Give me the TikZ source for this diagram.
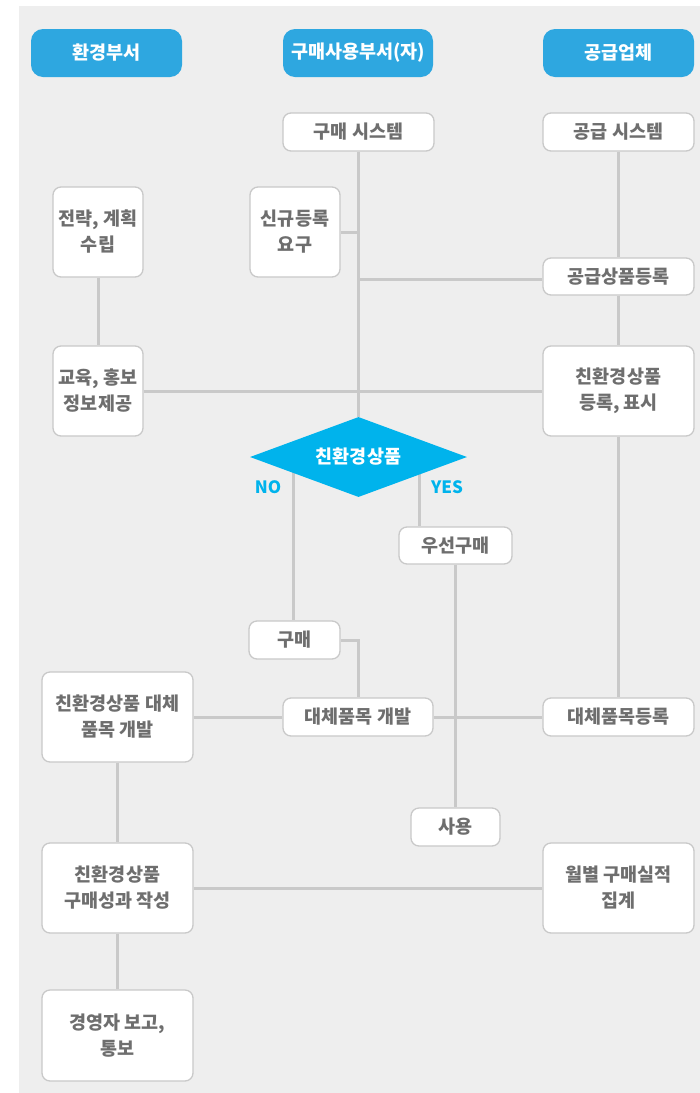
\documentclass[tikz,border=0pt]{standalone}
\usepackage{fontspec}
\setmainfont{Noto Sans CJK KR}
\usetikzlibrary{shapes.geometric,backgrounds}
\definecolor{bg}{HTML}{EEEEEE}
\definecolor{hdr}{HTML}{2EA7E0}
\definecolor{dia}{HTML}{00B3EC}
\definecolor{edge}{HTML}{C9C9C9}
\definecolor{txt}{HTML}{6E6E6E}
\tikzset{
  header/.style={draw=none, fill=hdr, rounded corners=12pt, text=white,
    minimum width=151pt, minimum height=48pt, inner sep=0pt,
    font=\fontsize{18.5}{22}\selectfont\bfseries},
  box/.style={draw=edge, line width=1.3pt, fill=white, rounded corners=8pt, text=txt,
    minimum width=151pt, minimum height=38pt, inner sep=0pt, align=center,
    font=\fontsize{18.5}{26}\selectfont\bfseries},
  conn/.style={draw=edge, line width=3pt},
  yn/.style={text=dia, font=\fontsize{17}{20}\selectfont\bfseries, inner sep=0pt},
}
\begin{document}
\begin{tikzpicture}[x=1pt,y=-1pt]
\useasboundingbox (0,0) rectangle (700,1093);
% headers
\node[header] (h1) at (106.5,53) {환경부서};
\node[header, minimum width=150pt] (h2) at (358,53) {구매사용부서(자)};
\node[header] (h3) at (618.5,53) {공급업체};
% boxes
\node[box] (buysys) at (358.5,132) {구매 시스템};
\node[box] (supsys) at (618.5,132) {공급 시스템};
\node[box, minimum width=90pt, minimum height=90pt] (plan) at (98,232) {전략, 계획\\수립};
\node[box, minimum width=90pt, minimum height=90pt] (newreg) at (295,232) {신규등록\\요구};
\node[box, minimum width=90pt, minimum height=90pt] (edu) at (98,391) {교육, 홍보\\정보제공};
\node[box, minimum height=37pt] (supreg) at (618.5,276.5) {공급상품등록};
\node[box, minimum height=90pt] (ecoreg) at (618.5,391) {친환경상품\\등록, 표시};
\node[diamond, aspect=2.7, fill=dia, text=white, minimum width=217pt, minimum height=80pt, inner sep=0pt,
  font=\fontsize{18.5}{22}\selectfont\bfseries] (dec) at (358.5,457) {친환경상품};
\node[box, minimum width=113pt, minimum height=37pt] (prior) at (455.5,545.5) {우선구매};
\node[box, minimum width=91pt] (buy) at (294.5,640) {구매};
\node[box, minimum height=90pt] (altdev) at (117.5,717) {친환경상품 대체\\품목 개발};
\node[box, minimum width=150pt] (alt) at (358,717) {대체품목 개발};
\node[box] (altreg) at (618.5,717) {대체품목등록};
\node[box, minimum width=89pt] (use) at (455.5,827) {사용};
\node[box, minimum height=90pt] (perf) at (117.5,888) {친환경상품\\구매성과 작성};
\node[box, minimum height=90pt] (monthly) at (618.5,888) {월별 구매실적\\집계};
\node[box, minimum height=91pt] (report) at (117.5,1035.5) {경영자 보고,\\통보};
% labels
\node[yn] (no) at (268,487) {NO};
\node[yn] (yes) at (447,487) {YES};
\coordinate (yesx) at (419,0);
\coordinate (nox) at (293,0);
% connectors
\begin{scope}[on background layer]
\fill[bg] (19,6) rectangle (700,1093);
\draw[conn] (buysys.south) -- (dec.north);
\draw[conn] (newreg.east) -- (newreg.east -| buysys.south);
\draw[conn] (supreg.west |- 0,279) -- (buysys.south |- 0,279);
\draw[conn] (edu.east) -- (ecoreg.west);
\draw[conn] (supsys.south) -- (supreg.north);
\draw[conn] (supreg.south) -- (ecoreg.north);
\draw[conn] (ecoreg.south) -- (altreg.north);
\draw[conn] (plan.south) -- (edu.north);
\draw[conn] (nox |- buy.north) -- (nox |- dec.center);
\draw[conn] (yesx |- prior.north) -- (yesx |- dec.center);
\draw[conn] (prior.south) -- (use.north);
\draw[conn] (buy.east) -| (alt.north);
\draw[conn] (altdev.east) -- (alt.west);
\draw[conn] (alt.east) -- (altreg.west);
\draw[conn] (altdev.south) -- (perf.north);
\draw[conn] (perf.south) -- (report.north);
\draw[conn] (perf.east) -- (monthly.west);
\end{scope}
\end{tikzpicture}
\end{document}
